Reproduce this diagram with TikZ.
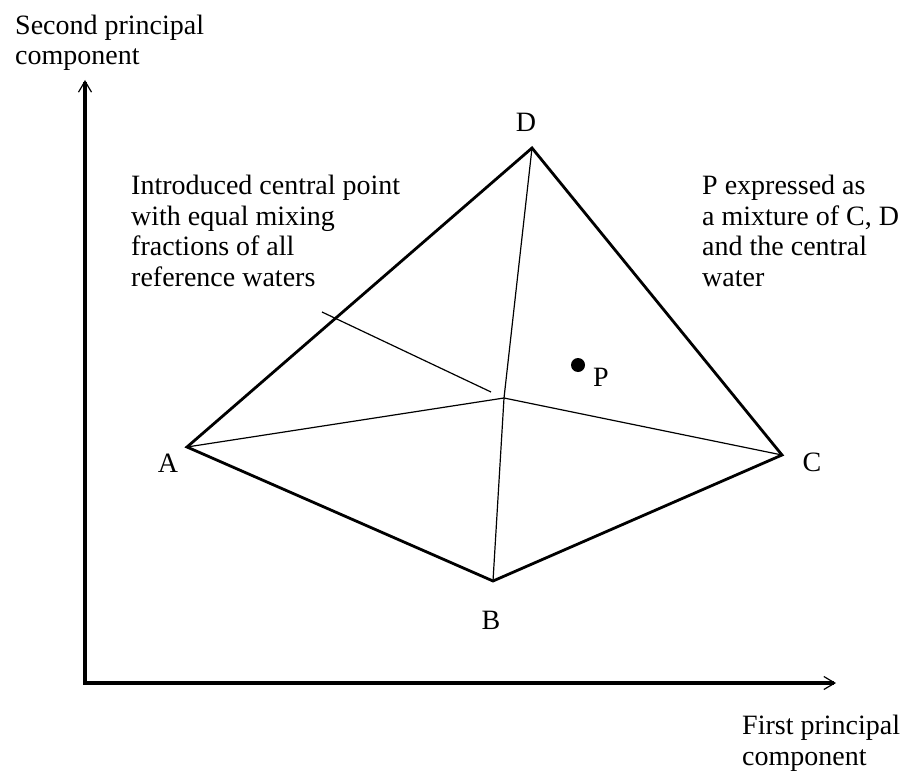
\documentclass[tikz,border=0pt]{standalone}
\usepackage{fontspec}
\setmainfont{Liberation Serif}
\usetikzlibrary{arrows.meta,positioning,calc}
\begin{document}
\begin{tikzpicture}[x=1pt,y=-1pt,
  font=\fontsize{28}{30.5}\selectfont,
  barb/.tip={Straight Barb[length=11pt,width=13pt,line width=1.2pt]},
  ax/.style={line width=3.3pt,{barb}-{barb}},
  rim/.style={line width=2.8pt,line join=miter},
  hair/.style={line width=1.2pt},
  lbl/.style={inner sep=0pt},
  txt/.style={inner sep=0pt,align=left,anchor=base west}
]
\useasboundingbox (0,0) rectangle (909,778);
% axes
\coordinate (O) at (85,683);
\coordinate (ytip) at (85,80);
\coordinate (xtip) at (836,683);
\draw[ax] (ytip) -- (O) -- (xtip);
\node[txt] (ylab) at (15,65) {Second principal\\component};
\node[txt] (xlab) at (742,765) {First principal\\component};
% reference waters
\coordinate (A) at (187,447);
\coordinate (B) at (493,581);
\coordinate (C) at (782,455);
\coordinate (D) at (532,148);
\coordinate (ctr) at (504,398);
\draw[rim] (A) -- (B) -- (C) -- (D) -- cycle;
\draw[hair] (A) -- (ctr) -- (C);
\draw[hair] (D) -- (ctr) -- (B);
\node[lbl] (a) at (168,463) {A};
\node[lbl] (b) at (491,620) {B};
\node[lbl] (c) at (812,462) {C};
\node[lbl] (d) at (526,122) {D};
% sample P
\node[circle,fill,inner sep=0pt,minimum size=14pt] (p) at (578,365) {};
\node[lbl] (plab) at (601,377) {P};
% notes
\node[txt] (note) at (131,286) {Introduced central point\\with equal mixing\\fractions of all\\reference waters};
\node[txt] (pnote) at (702,286) {P expressed as\\a mixture of C, D\\and the central\\water};
\coordinate (lead) at (322,312);
\coordinate (leadend) at (491,392);
\draw[hair] (lead) -- (leadend);
\end{tikzpicture}
\end{document}
